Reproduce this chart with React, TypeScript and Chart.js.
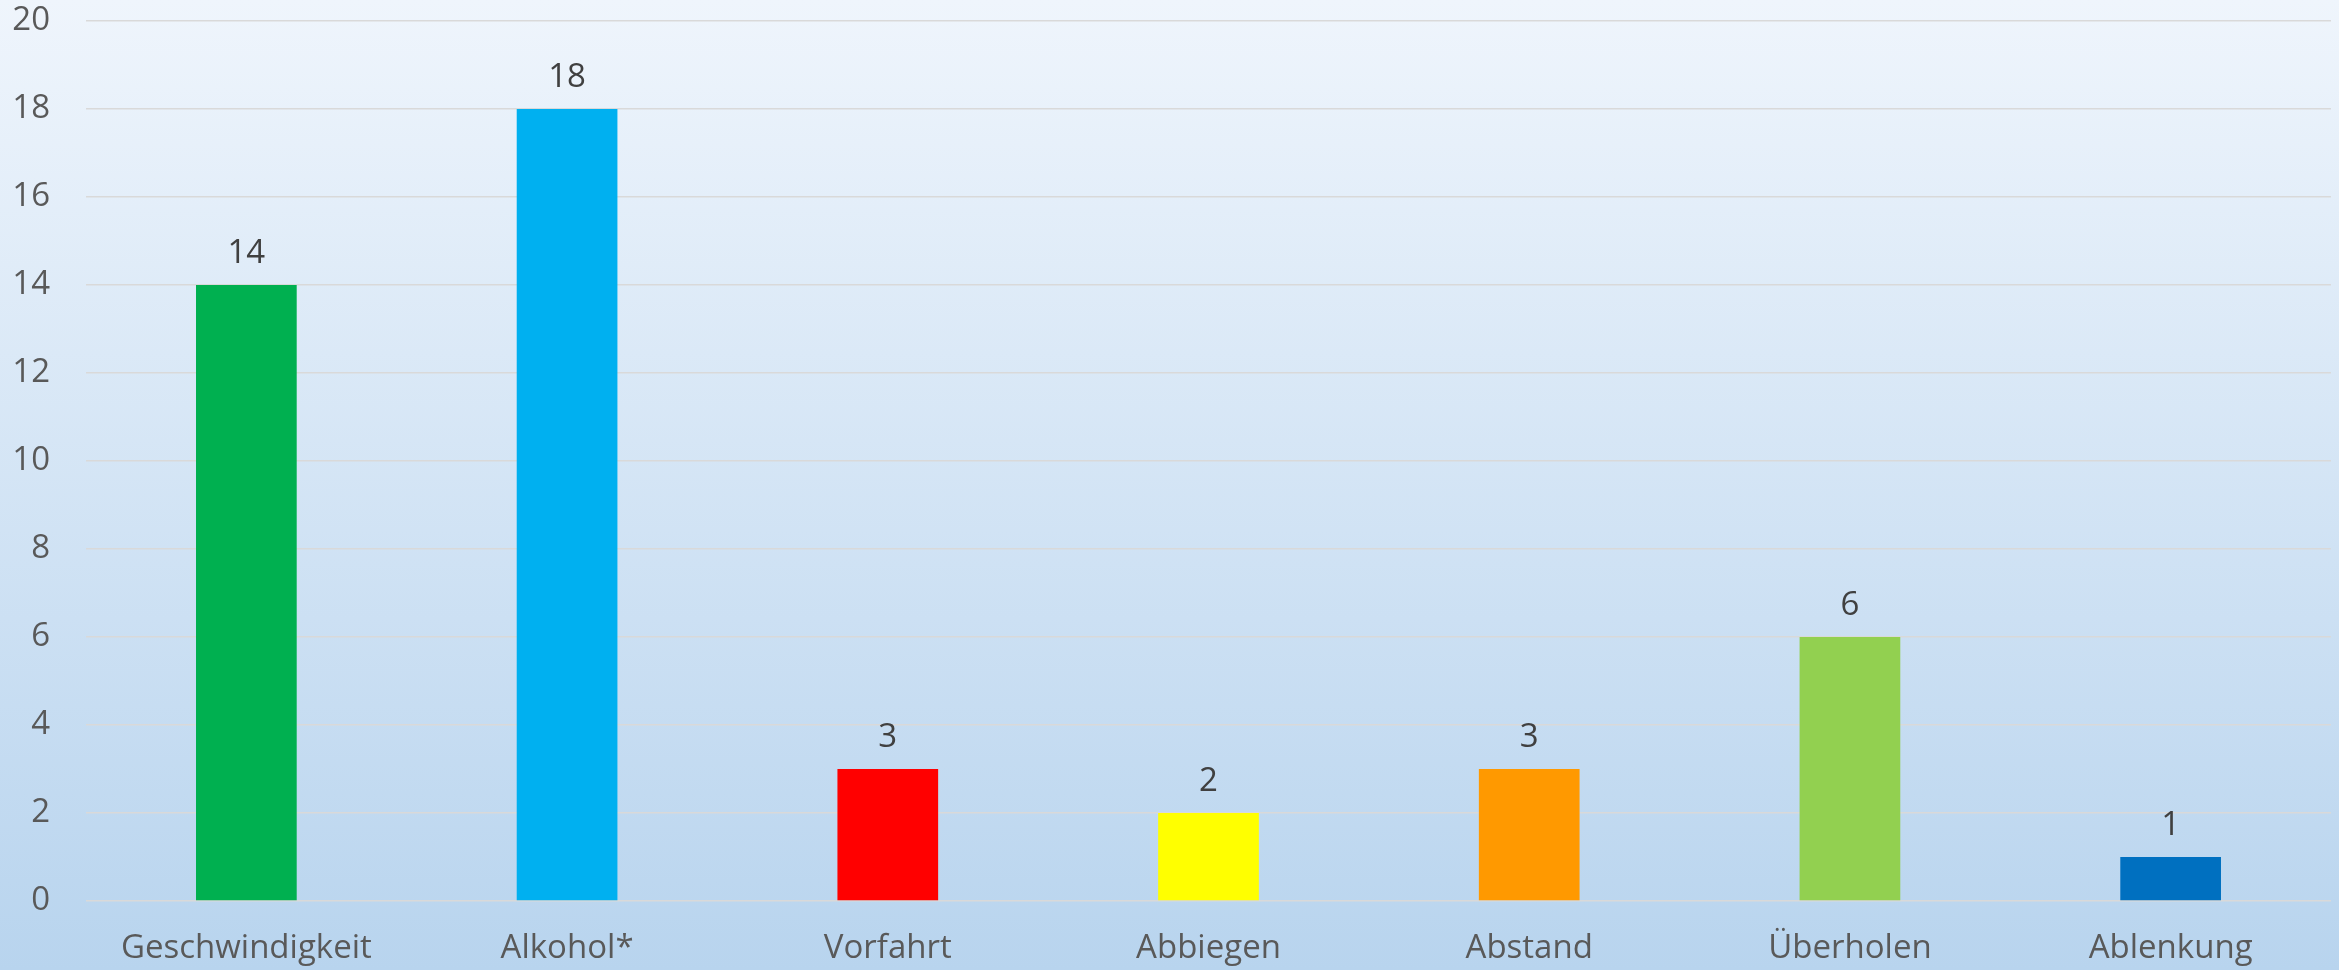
import React, { useEffect, useRef } from "react";
import { Chart, registerables } from "chart.js";

Chart.register(...registerables);

const categories = ["Geschwindigkeit", "Alkohol*", "Vorfahrt", "Abbiegen", "Abstand", "Überholen", "Ablenkung"];
const values = [14, 18, 3, 2, 3, 6, 1];
const barColors = ["#00b050", "#00b0f0", "#ff0000", "#ffff00", "#ff9900", "#92d050", "#0070c0"];
const yTicks = [0, 2, 4, 6, 8, 10, 12, 14, 16, 18, 20];

const FONT = "'Open Sans', sans-serif";

const valueLabels = {
  id: "valueLabels",
  afterDatasetsDraw(chart: any) {
    const ctx = chart.ctx;
    const meta = chart.getDatasetMeta(0);
    ctx.save();
    ctx.font = `33px ${FONT}`;
    ctx.fillStyle = "#404040";
    ctx.textAlign = "center";
    ctx.textBaseline = "alphabetic";
    meta.data.forEach((bar: any, i: number) => {
      ctx.fillText(String(values[i]), bar.x, bar.y - 22);
    });
    ctx.restore();
  },
};

export default function App() {
  const ref = useRef<HTMLCanvasElement | null>(null);
  useEffect(() => {
    document.body.style.margin = "0";
    const chart = new Chart(ref.current as HTMLCanvasElement, {
      type: "bar",
      data: {
        labels: categories,
        datasets: [
          {
            data: values,
            backgroundColor: barColors,
            borderWidth: 0,
            categoryPercentage: 1,
            barPercentage: 0.314,
          },
        ],
      },
      options: {
        responsive: false,
        animation: false,
        devicePixelRatio: 1,
        layout: { padding: { top: 21, right: 8, left: 0, bottom: 0 } },
        plugins: { legend: { display: false }, tooltip: { enabled: false } },
        scales: {
          x: {
            grid: { display: false, drawTicks: false },
            border: { display: false },
            ticks: {
              color: "#595959",
              font: { family: FONT, size: 33 },
              padding: 28,
              maxRotation: 0,
              autoSkip: false,
            },
            afterFit(scale: any) {
              scale.height = 69;
              scale.paddingLeft = 0;
              scale.paddingRight = 0;
            },
          },
          y: {
            min: 0,
            max: 20,
            afterBuildTicks(scale: any) {
              scale.ticks = yTicks.map((v) => ({ value: v }));
            },
            grid: { color: "#d9d9d9", lineWidth: 1.5, drawTicks: false },
            border: { display: false },
            ticks: {
              color: "#595959",
              font: { family: FONT, size: 33 },
              padding: 36,
            },
            afterFit(scale: any) {
              scale.width = 86;
              scale.paddingTop = 0;
              scale.paddingBottom = 0;
            },
          },
        },
      },
      plugins: [valueLabels],
    });
    return () => chart.destroy();
  }, []);
  return (
    <div
      style={{
        position: "absolute",
        left: 0,
        top: 0,
        width: 2339,
        height: 970,
        background: "linear-gradient(to bottom, #eff5fc 0%, #b8d4ee 100%)",
      }}
    >
      <canvas ref={ref} width={2339} height={970} />
    </div>
  );
}
